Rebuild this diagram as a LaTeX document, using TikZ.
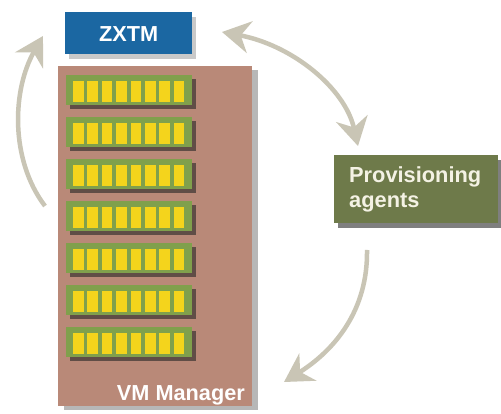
\documentclass[tikz,border=0pt]{standalone}
\usepackage{fontspec}
\setmainfont{Liberation Sans}
\usetikzlibrary{arrows.meta,shadows}
\definecolor{zblue}{HTML}{1B67A2}
\definecolor{vmbrown}{HTML}{B98978}
\definecolor{provgreen}{HTML}{6E7A4A}
\definecolor{stripgreen}{HTML}{80A04C}
\definecolor{blockyellow}{HTML}{F4D41C}
\definecolor{arrowgray}{HTML}{C9C5B5}
\definecolor{provtext}{HTML}{F4F2E4}
\begin{document}
\begin{tikzpicture}[x=1pt,y=-1pt,
  zbox/.style={fill=zblue, draw=none, anchor=north west, inner sep=0pt,
    drop shadow={shadow xshift=4pt, shadow yshift=-5pt, opacity=0.35, fill=black!60}},
  vmbox/.style={fill=vmbrown, draw=none, anchor=north west, inner sep=0pt,
    drop shadow={shadow xshift=6pt, shadow yshift=-4pt, opacity=0.4, fill=black!70}},
  pbox/.style={fill=provgreen, draw=none, anchor=north west,
    drop shadow={shadow xshift=4pt, shadow yshift=-5pt, opacity=0.5, fill=black}},
  strip/.style={fill=stripgreen, draw=none, anchor=north west, inner sep=0pt,
    minimum width=126pt, minimum height=30pt,
    drop shadow={shadow xshift=4pt, shadow yshift=-4pt, opacity=0.6, fill=black!85}},
  blk/.style={fill=blockyellow, draw=none},
  tip/.style={},
  flow/.style={draw=arrowgray, line width=4.5pt,
    -{Stealth[length=28pt, width=32pt, inset=9pt]}},
  flow2/.style={draw=arrowgray, line width=4.5pt,
    {Stealth[length=28pt, width=32pt, inset=9pt]}-{Stealth[length=28pt, width=32pt, inset=9pt]}},
  lbl/.style={font=\fontsize{21.7}{26}\selectfont\bfseries}
]
\useasboundingbox (0,0) rectangle (501,414);
\fill[white] (0,0) rectangle (501,414);

% VM Manager box
\node[vmbox, minimum width=194pt, minimum height=340pt] (vm) at (58,66) {};
\node[lbl, text=white, anchor=base east, inner sep=0pt] (vmtext) at (245,400) {VM Manager};

% strips with blocks
\foreach \k in {1,...,7} {
  \pgfmathsetmacro{\t}{75+42*(\k-1)}
  \node[strip] (s\k) at (66,\t) {};
  \foreach \i in {0,...,7} {
    \fill[blk] ({73+\i*14.4},{\t+6}) rectangle +(10.5,21);
  }
}

% ZXTM box
\node[zbox, minimum width=127pt, minimum height=42pt] (zxtm) at (65,12) {};
\node[lbl, text=white] (ztext) at ([yshift=-1pt]zxtm.center) {ZXTM};

% Provisioning agents
\node[pbox, minimum width=161pt, minimum height=68pt, inner xsep=15pt, inner ysep=0pt,
  text width=134pt, align=left, text=provtext,
  font=\fontsize{21.8}{24.5}\selectfont\bfseries] (prov) at (334,155) {Provisioning\\agents};

% arrow end points
\coordinate (lt) at (45,206);
\coordinate (lh) at (43,36);
\coordinate (ta) at (222,32);
\coordinate (tb) at (358,146);
\coordinate (bt) at (367,250);
\coordinate (bh) at (284,382);

\draw[flow] (lt) .. controls (10,160) and (12,90) .. (lh);
\draw[flow2] (ta) .. controls (292,45) and (345,88) .. (tb);
\draw[flow] (bt) .. controls (368,310) and (335,350) .. (bh);
\end{tikzpicture}
\end{document}
